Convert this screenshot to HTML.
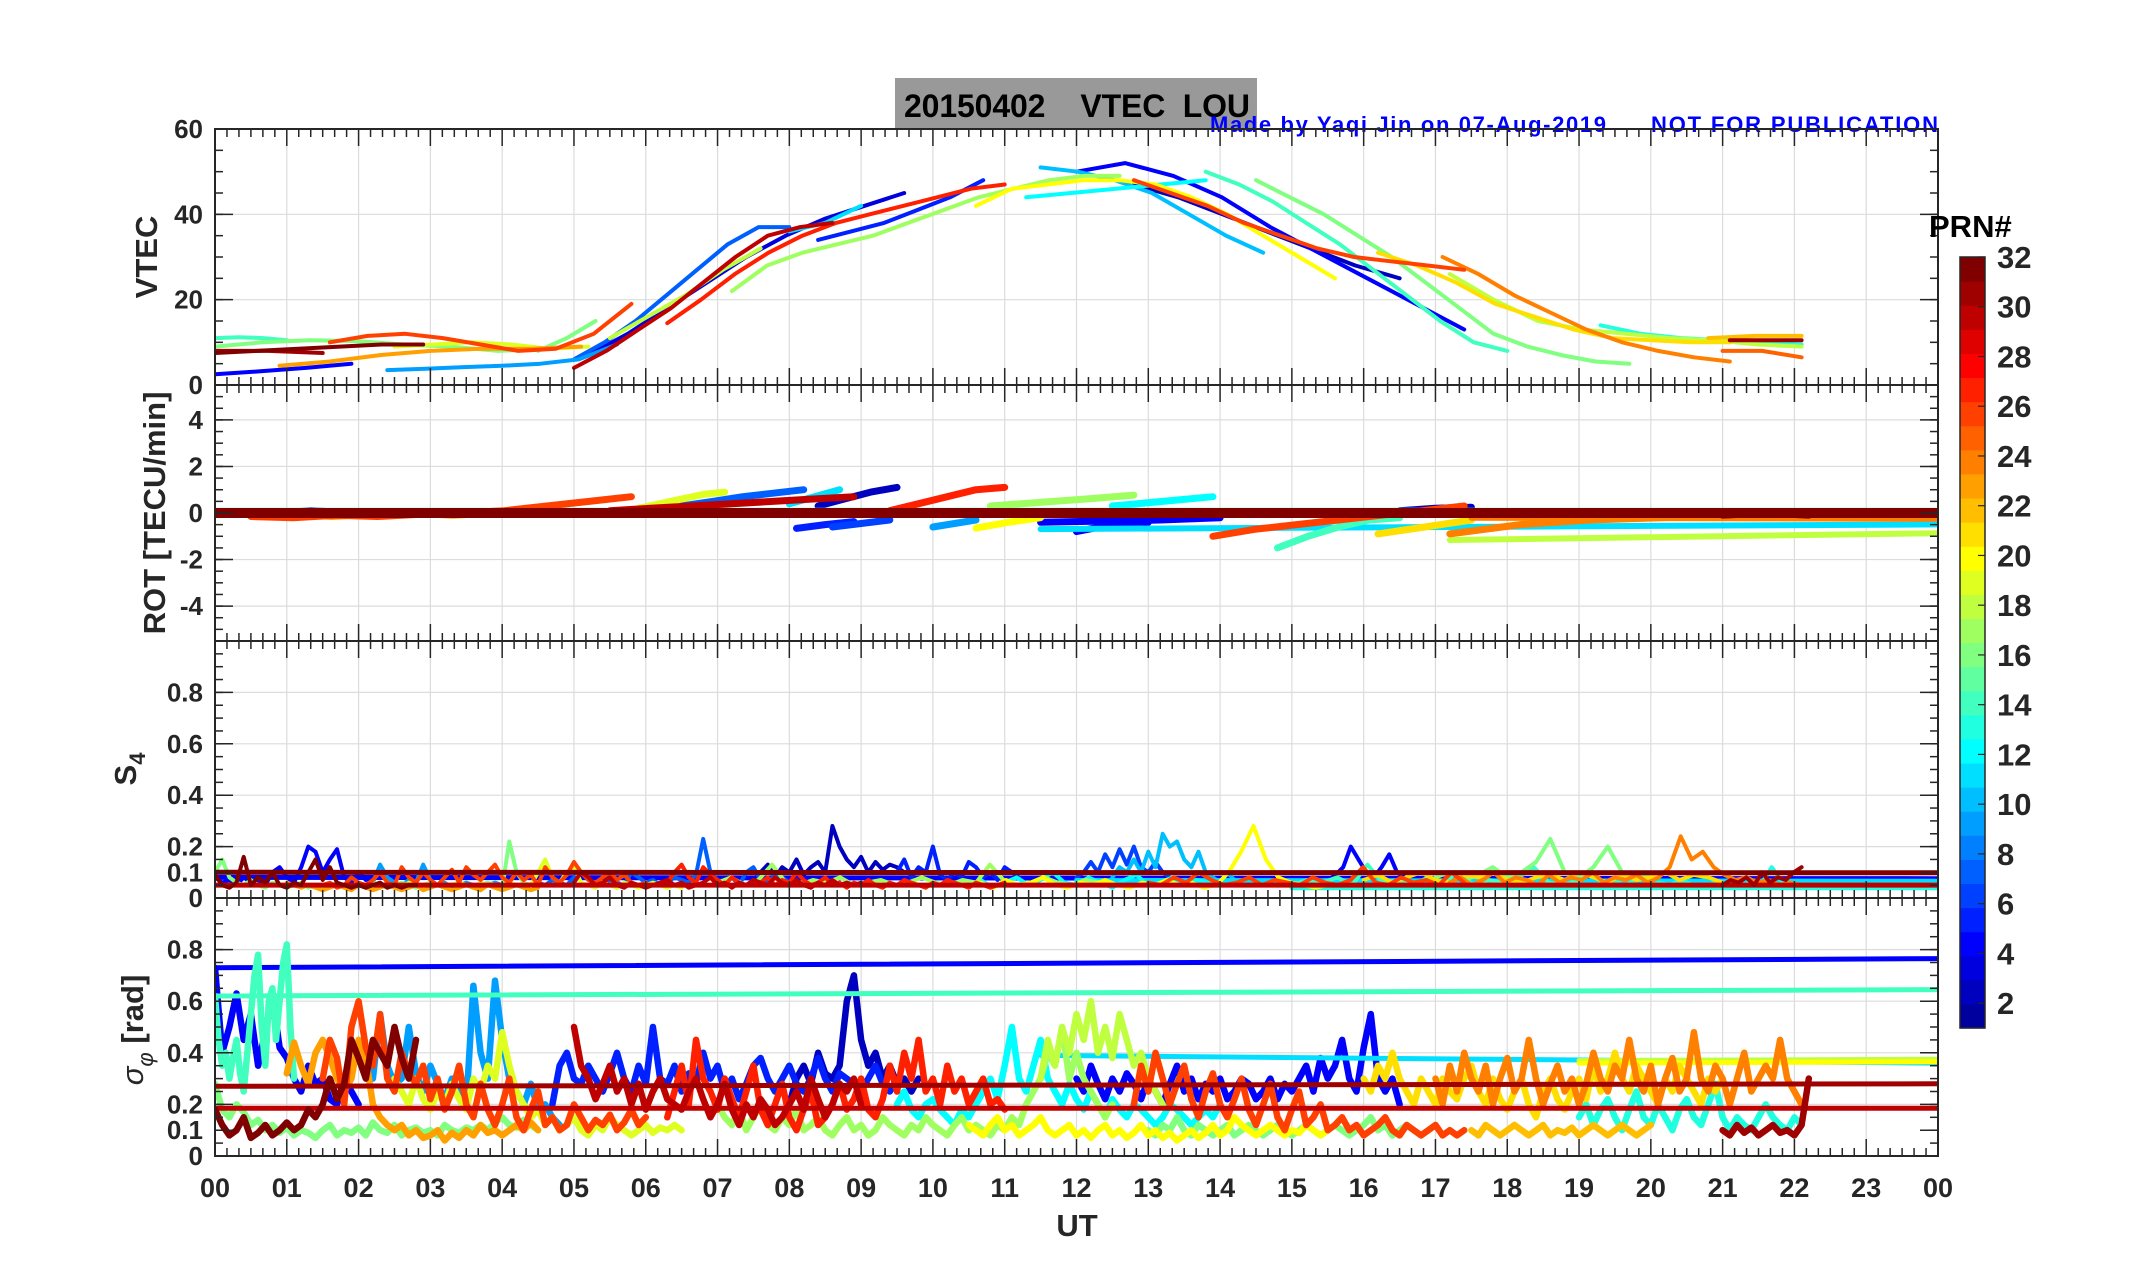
<!DOCTYPE html>
<html><head><meta charset="utf-8"><title>VTEC LOU 20150402</title>
<style>
html,body{margin:0;padding:0;background:#fff;}
svg{display:block;}
text{font-family:"Liberation Sans",Arial,sans-serif;font-weight:bold;fill:#262626;white-space:pre;}
</style></head>
<body>
<svg id="chart" width="2153" height="1286" viewBox="0 0 2153 1286" xmlns="http://www.w3.org/2000/svg">
  <rect x="0" y="0" width="2153" height="1286" fill="#fff"/>
  <rect x="895" y="78" width="362" height="51" fill="#999999"/>
  <text x="904" y="117" font-size="32" textLength="346" style="fill:#000">20150402    VTEC  LOU</text>
  <text x="1210" y="132" font-size="22" textLength="396" style="fill:#0000ff">Made by Yaqi Jin on 07-Aug-2019</text>
  <text x="1651" y="132" font-size="22" textLength="287" style="fill:#0000ff">NOT FOR PUBLICATION</text>
  <g id="panels"></g>
  <g id="cbar"></g>
</svg>
<script>
// ---------- data ----------
const hourTicks = ["00","01","02","03","04","05","06","07","08","09","10","11","12","13","14","15","16","17","18","19","20","21","22","23","00"];
const vtecTicks = [0,20,40,60];
const rotTicks = [-4,-2,0,2,4];
const s4Ticks = [0,0.1,0.2,0.4,0.6,0.8];
const sigTicks = [0,0.1,0.2,0.4,0.6,0.8];
const cbarTicks = [2,4,6,8,10,12,14,16,18,20,22,24,26,28,30,32];

// VTEC: [prn, startHour, endHour, values]
const vtecSeries = [
 [4,0,1.9,[2.5,3.2,4,5]],
 [14,0,1.0,[11,11.2,11,10.5]],
 [16,0,4.6,[9,10,10.5,10.3,9.5,9,8,8.5]],
 [32,0,2.9,[7.5,8,8.5,9,9.5,9.5]],
 [31,0,1.5,[8,8,7.5]],
 [23,0.9,5.1,[4.5,5.5,7,8,8.5,8.5,9]],
 [26,1.6,5.8,[10,11.5,12,11,9.5,8,8.5,12,19]],
 [19,2.5,5.2,[9,9.5,10,9.5,8.5,9]],
 [9,2.4,5.6,[3.5,3.8,4.2,4.5,5,6,9.5]],
 [16,4.5,5.3,[8,11,15]],
 [30,5.0,8.6,[4,8,13,18,24,30,35,37,38]],
 [7,5.0,8.0,[6,10,15,21,27,33,37,37]],
 [3,5.2,9.6,[7,12,18,24,30,35,39,42,45]],
 [27,6.3,11,[14.5,20,26,31,35,38,40,42,44,46,47]],
 [18,5.5,7.6,[11,16,21,27,32]],
 [17,7.2,12.6,[22,28,31,33,35,38,41,44,46,48,49,49]],
 [11,8.0,9.0,[36,38,42]],
 [5,8.4,10.7,[34,36,38,41,44,48]],
 [20,10.6,15.6,[42,46,47,48,48,47,44,40,35,30,25]],
 [12,11.3,13.8,[44,45,46,47,48]],
 [10,11.5,14.6,[51,50,48,45,40,35,31]],
 [26,12.8,17.4,[48,45,42,38,35,32,30,29,28,27]],
 [4,12.0,17.4,[50,52,49,44,37,31,25,19,13]],
 [2,12.8,16.5,[47,44,40,36,32,28,25]],
 [14,13.8,18.0,[50,47,43,38,33,27,21,15,10,8]],
 [16,14.5,19.7,[48,44,40,35,30,24,18,12,9,7,5.5,5]],
 [21,16.2,21.1,[31,28,24,19,16,13,11,10.5,10,10]],
 [24,17.1,21.1,[30,26,21,17,13,10,8,6.5,5.5]],
 [18,17.2,22.1,[26,20,15,13,12,11,10.5,9.5,9]],
 [13,19.3,22.1,[14,12,11,10.5,10,9.5]],
 [25,21.0,22.1,[8,8,6.5]],
 [22,20.8,22.1,[11,11.5,11.5]],
 [31,21.1,22.1,[10.5,10.5,10.5]]
];

// ROT: [prn, startHour, endHour, values]
const rotSeries = [
 [4,0,2,[0.05,-0.05,0.1,0]],
 [16,0,5,[0,0.05,-0.05,0,0.05,0,-0.05,0,0.05,0]],
 [23,0.5,5,[-0.1,0,-0.15,-0.05,0,-0.1,0,0.05,0]],
 [26,0.5,5.8,[-0.15,-0.2,-0.1,-0.15,-0.05,0,0.1,0.3,0.5,0.7]],
 [19,5.9,7.1,[0.2,0.4,0.6,0.8,0.9]],
 [7,6.5,8.2,[0.3,0.5,0.7,0.85,1.0]],
 [11,8.0,8.7,[0.4,0.7,1.0]],
 [30,5.5,8.9,[0.1,0.2,0.3,0.4,0.5,0.6,0.7]],
 [2,8.4,9.5,[0.3,0.6,0.9,1.1]],
 [27,9.4,11,[0.1,0.4,0.7,1.0,1.1]],
 [5,8.1,8.9,[-0.66,-0.5,-0.37]],
 [6,8.6,9.4,[-0.6,-0.45,-0.3]],
 [9,10.0,10.6,[-0.6,-0.45,-0.3]],
 [20,10.6,11.5,[-0.65,-0.4,-0.2]],
 [17,10.8,12.8,[0.3,0.45,0.6,0.77]],
 [12,12.5,13.9,[0.3,0.5,0.7]],
 [4,11.5,14,[-0.4,-0.35,-0.3,-0.2]],
 [4,12.0,13.0,[-0.8,-0.5,-0.4]],
 [26,13.9,17.4,[-1.0,-0.7,-0.5,-0.3,-0.1,0.1,0.3]],
 [14,14.8,16.5,[-1.5,-1.0,-0.6,-0.3,-0.2]],
 [21,16.2,17.5,[-0.9,-0.6,-0.3]],
 [24,17.2,22.1,[-0.9,-0.5,-0.3,-0.2,-0.1,0.0]],
 [2,16.5,17.5,[0.1,0.2,0.25]],
 [31,21,22.2,[-0.1,0,-0.1]]
];
const rotFlat = [[14,0,24,0.1,0.1],[11,11.5,24,-0.69,-0.49],[18,17.2,24,-1.16,-0.87],[24,17.5,24,-0.2,-0.25],[32,0,24,0,0]];

const s4Series = [
 [4,0,2.2,[0.08,0.06,0.07,0.05,0.08,0.06,0.07,0.05,0.1,0.12,0.08,0.06,0.12,0.2,0.18,0.1,0.15,0.19,0.08,0.06,0.1,0.07,0.08]],
 [16,0,4.5,[0.1,0.15,0.08,0.06,0.05,0.07,0.05,0.04,0.06,0.05,0.04,0.05,0.06,0.04,0.05,0.04,0.05,0.06,0.04,0.05,0.05,0.04,0.06,0.05,0.04,0.05,0.06,0.05,0.04,0.05,0.06,0.05,0.04,0.05,0.06,0.05,0.04,0.05,0.06,0.05,0.04,0.22,0.1,0.06,0.05,0.04]],
 [23,1.0,4.5,[0.06,0.05,0.04,0.05,0.04,0.03,0.04,0.05,0.04,0.03,0.05,0.04,0.03,0.04,0.05,0.04,0.03,0.04,0.05,0.03,0.04,0.05,0.04,0.03,0.04,0.05,0.04,0.03,0.05,0.04,0.03,0.04,0.05,0.04,0.03,0.04]],
 [9,2.2,4.0,[0.06,0.13,0.08,0.06,0.05,0.07,0.06,0.13,0.07,0.05,0.06,0.04,0.05,0.06,0.05,0.04,0.05,0.06,0.05]],
 [26,1.5,6,[0.05,0.06,0.04,0.05,0.08,0.06,0.05,0.07,0.1,0.06,0.05,0.12,0.08,0.06,0.1,0.07,0.05,0.08,0.11,0.06,0.12,0.09,0.07,0.1,0.13,0.08,0.06,0.1,0.07,0.09,0.05,0.12,0.08,0.06,0.09,0.14,0.1,0.07,0.06,0.08,0.1,0.07,0.09,0.06,0.05,0.06]],
 [19,2.5,6.5,[0.05,0.04,0.06,0.05,0.04,0.06,0.05,0.04,0.05,0.06,0.05,0.04,0.06,0.05,0.04,0.05,0.06,0.05,0.04,0.05,0.1,0.15,0.08,0.06,0.1,0.12,0.06,0.05,0.04,0.06,0.05,0.04,0.06,0.05,0.04,0.05,0.06,0.05,0.04,0.05,0.04]],
 [7,4.5,8,[0.06,0.05,0.07,0.06,0.05,0.08,0.1,0.07,0.06,0.05,0.07,0.06,0.05,0.1,0.08,0.06,0.07,0.05,0.06,0.08,0.07,0.06,0.09,0.23,0.1,0.07,0.06,0.08,0.05,0.1,0.12,0.07,0.06,0.09,0.08,0.06]],
 [2,7.5,9.6,[0.07,0.1,0.13,0.08,0.12,0.1,0.15,0.09,0.12,0.14,0.1,0.28,0.2,0.15,0.12,0.16,0.1,0.14,0.11,0.13,0.12,0.1]],
 [17,7,12.5,[0.06,0.08,0.05,0.07,0.13,0.06,0.05,0.07,0.06,0.08,0.05,0.06,0.07,0.05,0.06,0.08,0.06,0.05,0.07,0.06,0.13,0.07,0.05,0.06,0.08,0.06,0.05,0.07,0.06,0.05]],
 [5,9.5,11.2,[0.1,0.15,0.08,0.12,0.1,0.2,0.09,0.07,0.1,0.08,0.14,0.12,0.08,0.1,0.07,0.12,0.1,0.08]],
 [12,10.5,14,[0.05,0.07,0.04,0.06,0.08,0.05,0.07,0.1,0.06,0.05,0.08,0.06,0.04,0.07,0.09,0.05,0.06,0.08,0.05,0.07,0.06,0.05]],
 [20,10.5,15.5,[0.05,0.06,0.04,0.07,0.05,0.06,0.08,0.05,0.04,0.06,0.05,0.07,0.05,0.04,0.06,0.05,0.07,0.05,0.06,0.04,0.05,0.1,0.18,0.28,0.15,0.08,0.06,0.05,0.04,0.05]],
 [10,12.5,14.2,[0.08,0.12,0.1,0.15,0.1,0.18,0.12,0.25,0.2,0.22,0.15,0.12,0.18,0.1,0.08,0.06,0.1,0.07]],
 [6,12,13.5,[0.08,0.1,0.14,0.1,0.17,0.12,0.19,0.13,0.2,0.12,0.1,0.14,0.1,0.08,0.07,0.06]],
 [4,15.5,17,[0.07,0.09,0.12,0.2,0.15,0.1,0.08,0.12,0.17,0.1,0.08,0.07,0.06,0.08,0.06]],
 [21,16,21,[0.07,0.09,0.06,0.08,0.1,0.07,0.06,0.09,0.08,0.1,0.07,0.06,0.08,0.09,0.07,0.1,0.08,0.06,0.09,0.07,0.08,0.1,0.07,0.09,0.08,0.06]],
 [14,15,19,[0.05,0.07,0.06,0.08,0.05,0.13,0.06,0.07,0.05,0.08,0.06,0.1,0.05,0.07,0.06,0.08,0.12,0.06,0.05,0.07]],
 [16,17,20,[0.08,0.1,0.07,0.09,0.12,0.08,0.1,0.14,0.23,0.1,0.08,0.12,0.2,0.1,0.08,0.09]],
 [24,17.2,22.1,[0.06,0.08,0.05,0.07,0.1,0.06,0.08,0.07,0.05,0.09,0.06,0.08,0.07,0.1,0.06,0.08,0.07,0.09,0.06,0.08,0.12,0.24,0.15,0.18,0.12,0.09,0.07,0.08,0.06,0.07,0.05,0.06,0.05]],
 [13,19,22,[0.05,0.04,0.06,0.05,0.08,0.05,0.04,0.06,0.05,0.07,0.05,0.04,0.06,0.05,0.04,0.06,0.05,0.12,0.06,0.05]],
 [30,5,9,[0.06,0.1,0.08,0.05,0.06,0.08,0.05,0.04,0.06,0.05,0.04,0.05,0.06,0.07,0.05,0.06,0.04,0.05,0.06,0.08,0.05,0.06,0.04,0.06,0.05,0.07,0.06,0.05,0.08,0.06,0.05,0.07,0.05,0.04,0.06,0.05,0.07,0.05,0.06,0.05,0.06]],
 [27,6.3,11,[0.06,0.1,0.13,0.08,0.06,0.12,0.09,0.07,0.05,0.08,0.06,0.05,0.07,0.06,0.08,0.05,0.07,0.06,0.1,0.07,0.05,0.06,0.08,0.05,0.06,0.04,0.06,0.05,0.07,0.05,0.04,0.06,0.05,0.07,0.06,0.05,0.04,0.06,0.05,0.07,0.06,0.05,0.04,0.06,0.05,0.04,0.05,0.06]],
 [26,13,17.4,[0.06,0.05,0.08,0.06,0.1,0.07,0.05,0.06,0.08,0.05,0.07,0.06,0.05,0.08,0.06,0.05,0.07,0.12,0.06,0.05,0.08,0.06,0.07,0.05,0.1,0.06]],
 [32,0,2.8,[0.09,0.05,0.04,0.06,0.16,0.05,0.08,0.06,0.1,0.05,0.04,0.06,0.05,0.1,0.15,0.07,0.12,0.06,0.05,0.04,0.05,0.04,0.05,0.06,0.04,0.05,0.04,0.05,0.05]],
 [31,21,22.1,[0.05,0.07,0.06,0.08,0.05,0.1,0.06,0.08,0.07,0.1,0.12]]
];
const s4Flat = [[13,15,24,0.04,0.04],[4,0,24,0.08,0.075],[11,12,24,0.068,0.065],[30,0,24,0.05,0.05],[32,0,24,0.1,0.098]];

const sigSeries = [
 [16,0,4.5,[0.28,0.18,0.15,0.2,0.17,0.12,0.14,0.1,0.12,0.09,0.11,0.08,0.1,0.09,0.07,0.1,0.12,0.08,0.1,0.09,0.11,0.08,0.13,0.1,0.09,0.12,0.08,0.1,0.11,0.09,0.1,0.08,0.12,0.1,0.09,0.11,0.1,0.12,0.1,0.13,0.15,0.12,0.11,0.14,0.12,0.1]],
 [4,0,2.0,[0.73,0.4,0.5,0.63,0.45,0.55,0.35,0.48,0.62,0.42,0.38,0.3,0.25,0.35,0.28,0.3,0.22,0.2,0.3,0.25,0.2]],
 [14,0,1.1,[0.62,0.45,0.35,0.4,0.3,0.38,0.45,0.32,0.25,0.4,0.55,0.7,0.78,0.5,0.35,0.6,0.65,0.45,0.6,0.75,0.82,0.5,0.3]],
 [23,1,4.5,[0.32,0.44,0.35,0.28,0.4,0.45,0.38,0.3,0.25,0.3,0.45,0.38,0.2,0.15,0.12,0.1,0.12,0.08,0.1,0.07,0.08,0.1,0.06,0.09,0.07,0.1,0.08,0.12,0.09,0.1,0.08,0.1,0.12,0.1,0.13,0.1]],
 [9,2.2,4.8,[0.3,0.55,0.35,0.28,0.3,0.5,0.32,0.25,0.35,0.28,0.22,0.3,0.25,0.2,0.66,0.4,0.3,0.68,0.45,0.3,0.25,0.2,0.28,0.18,0.2,0.15,0.12]],
 [19,2.5,6.5,[0.3,0.25,0.2,0.3,0.22,0.18,0.25,0.2,0.28,0.22,0.18,0.3,0.25,0.35,0.3,0.48,0.35,0.25,0.2,0.15,0.18,0.12,0.15,0.1,0.12,0.15,0.1,0.08,0.12,0.1,0.15,0.12,0.1,0.08,0.1,0.12,0.09,0.11,0.1,0.12,0.1]],
 [26,1.5,6,[0.3,0.45,0.38,0.2,0.5,0.6,0.42,0.35,0.55,0.3,0.25,0.4,0.32,0.28,0.35,0.22,0.3,0.18,0.25,0.35,0.2,0.15,0.28,0.18,0.12,0.2,0.3,0.15,0.1,0.18,0.25,0.12,0.15,0.1,0.12,0.2,0.15,0.1,0.14,0.12,0.16,0.1,0.13,0.18,0.12,0.15]],
 [5,4.7,9.5,[0.2,0.35,0.4,0.3,0.28,0.35,0.3,0.25,0.32,0.4,0.3,0.25,0.35,0.28,0.5,0.3,0.28,0.35,0.25,0.32,0.28,0.4,0.3,0.35,0.25,0.3,0.22,0.28,0.35,0.38,0.3,0.25,0.3,0.35,0.28,0.25,0.3,0.38,0.3,0.25,0.32,0.3,0.28,0.25,0.3,0.35,0.28,0.25,0.3]],
 [2,8,9.8,[0.2,0.3,0.35,0.28,0.4,0.32,0.3,0.35,0.6,0.7,0.45,0.35,0.4,0.3,0.35,0.28,0.3,0.25,0.3]],
 [17,7,12.5,[0.2,0.15,0.12,0.18,0.1,0.15,0.2,0.12,0.1,0.15,0.12,0.18,0.1,0.12,0.15,0.1,0.08,0.12,0.15,0.1,0.12,0.08,0.1,0.15,0.12,0.1,0.08,0.12,0.1,0.15,0.12,0.1,0.08,0.12,0.15,0.1,0.12,0.1,0.08,0.12,0.1,0.15,0.12,0.2,0.25,0.3,0.4,0.35,0.5,0.3,0.4,0.3,0.25,0.2,0.15,0.2]],
 [12,9.5,14,[0.2,0.25,0.18,0.15,0.2,0.22,0.18,0.15,0.12,0.18,0.15,0.2,0.25,0.3,0.22,0.35,0.5,0.3,0.25,0.35,0.45,0.3,0.25,0.2,0.28,0.22,0.18,0.25,0.2,0.15,0.22,0.18,0.15,0.2,0.18,0.15,0.12,0.15,0.2,0.18,0.15,0.12,0.15,0.18,0.15,0.2]],
 [18,11.5,13.2,[0.3,0.45,0.35,0.5,0.4,0.55,0.45,0.6,0.4,0.5,0.38,0.55,0.45,0.35,0.4,0.3,0.25,0.2]],
 [20,10.5,15.5,[0.12,0.1,0.08,0.12,0.15,0.1,0.12,0.08,0.1,0.12,0.15,0.1,0.08,0.1,0.12,0.08,0.1,0.07,0.1,0.12,0.08,0.1,0.07,0.09,0.12,0.08,0.1,0.07,0.09,0.06,0.08,0.1,0.07,0.09,0.12,0.08,0.1,0.15,0.12,0.1,0.08,0.1,0.12,0.1,0.08,0.1,0.09,0.12,0.1,0.08,0.1]],
 [4,12,16.5,[0.3,0.25,0.35,0.28,0.22,0.3,0.25,0.32,0.28,0.22,0.3,0.25,0.2,0.28,0.35,0.25,0.3,0.22,0.28,0.25,0.3,0.22,0.25,0.3,0.28,0.22,0.25,0.3,0.22,0.28,0.25,0.3,0.35,0.25,0.38,0.3,0.35,0.45,0.3,0.25,0.42,0.55,0.3,0.25,0.3,0.2]],
 [16,13,17,[0.1,0.08,0.12,0.1,0.15,0.1,0.08,0.12,0.1,0.08,0.1,0.12,0.08,0.1,0.12,0.1,0.08,0.1,0.12,0.1,0.08,0.1,0.12,0.1,0.08,0.1,0.12,0.1,0.08,0.1,0.12,0.15,0.1,0.12,0.08,0.1,0.12,0.1,0.08,0.1,0.12]],
 [21,16,21,[0.3,0.25,0.35,0.3,0.4,0.3,0.25,0.2,0.3,0.25,0.2,0.3,0.25,0.22,0.3,0.35,0.25,0.2,0.3,0.22,0.18,0.25,0.3,0.2,0.15,0.25,0.3,0.22,0.18,0.25,0.3,0.22,0.35,0.25,0.3,0.4,0.3,0.25,0.35,0.3,0.25,0.2,0.3,0.25,0.35,0.3,0.25,0.2,0.3,0.25,0.3]],
 [22,17.5,20,[0.1,0.08,0.12,0.1,0.08,0.1,0.12,0.1,0.08,0.1,0.12,0.08,0.1,0.09,0.11,0.08,0.1,0.12,0.1,0.08,0.1,0.12,0.1,0.08,0.1,0.12]],
 [13,19,22.1,[0.15,0.2,0.12,0.18,0.22,0.15,0.1,0.18,0.25,0.15,0.12,0.2,0.15,0.1,0.18,0.22,0.15,0.12,0.2,0.28,0.15,0.1,0.15,0.12,0.1,0.15,0.2,0.15,0.12,0.1,0.15,0.12]],
 [24,17,22.1,[0.3,0.2,0.35,0.25,0.4,0.3,0.25,0.35,0.2,0.3,0.38,0.25,0.3,0.45,0.3,0.2,0.28,0.35,0.25,0.3,0.2,0.28,0.4,0.3,0.25,0.35,0.3,0.45,0.3,0.25,0.35,0.2,0.3,0.38,0.25,0.3,0.48,0.3,0.25,0.35,0.3,0.2,0.3,0.4,0.25,0.3,0.35,0.3,0.45,0.3,0.25,0.2]],
 [27,6.3,11,[0.15,0.25,0.35,0.2,0.45,0.3,0.25,0.18,0.3,0.22,0.15,0.25,0.35,0.18,0.12,0.2,0.28,0.15,0.1,0.18,0.25,0.12,0.15,0.2,0.28,0.18,0.22,0.3,0.18,0.15,0.22,0.35,0.25,0.4,0.3,0.45,0.25,0.3,0.2,0.35,0.25,0.3,0.2,0.25,0.3,0.2,0.22,0.18]],
 [26,12.8,17.4,[0.2,0.35,0.25,0.4,0.3,0.2,0.28,0.35,0.22,0.15,0.25,0.32,0.2,0.15,0.22,0.3,0.18,0.12,0.2,0.28,0.15,0.1,0.18,0.25,0.12,0.15,0.2,0.1,0.12,0.15,0.1,0.12,0.08,0.1,0.12,0.15,0.1,0.08,0.12,0.1,0.08,0.1,0.12,0.08,0.1,0.08,0.1]],
 [30,5,9,[0.5,0.35,0.3,0.22,0.28,0.35,0.25,0.3,0.2,0.28,0.18,0.25,0.3,0.22,0.2,0.18,0.25,0.3,0.22,0.15,0.2,0.28,0.18,0.12,0.2,0.15,0.22,0.18,0.12,0.15,0.2,0.25,0.18,0.3,0.22,0.15,0.2,0.28,0.25,0.3,0.2]],
 [32,0,2.8,[0.18,0.12,0.08,0.1,0.15,0.07,0.09,0.12,0.08,0.1,0.13,0.1,0.12,0.18,0.15,0.2,0.3,0.22,0.28,0.45,0.38,0.3,0.45,0.4,0.35,0.5,0.38,0.3,0.45]],
 [31,21,22.2,[0.1,0.08,0.12,0.09,0.11,0.08,0.1,0.12,0.09,0.1,0.08,0.12,0.3]]
];
const sigFlat = [[4,0,24,0.73,0.765],[14,0,24,0.62,0.645],[11,11.5,24,0.39,0.36],[18,19,24,0.37,0.375],[20,19,24,0.36,0.365],[31,0,24,0.27,0.28],[30,0,24,0.185,0.185]];

// ---------- helpers ----------
const NS = "http://www.w3.org/2000/svg";
const X0 = 215, X1 = 1938;
const xS = h => X0 + h * (X1 - X0) / 24;
function jet(i){
  const u = [];
  for (let k=1;k<=8;k++) u.push(k/8);
  for (let k=0;k<7;k++) u.push(1);
  for (let k=8;k>=1;k--) u.push(k/8);
  const U = k => (k>=1 && k<=23) ? u[k-1] : 0;
  const r = U(i-12), g = U(i-4), b = U(i+4);
  return `rgb(${Math.round(r*255)},${Math.round(g*255)},${Math.round(b*255)})`;
}
function el(tag, attrs, parent){
  const e = document.createElementNS(NS, tag);
  for (const k in attrs) e.setAttribute(k, attrs[k]);
  parent.appendChild(e);
  return e;
}
const panelsG = document.getElementById('panels');

const panels = [
 {name:'vtec', top:129, bot:385, min:0, max:60, major:vtecTicks, minorStep:5, grid:vtecTicks, labels:vtecTicks.map(String)},
 {name:'rot', top:385, bot:641, min:-5.5, max:5.5, major:rotTicks, minorStep:0.5, grid:rotTicks, labels:rotTicks.map(String)},
 {name:'s4', top:641, bot:898, min:0, max:1.0, major:s4Ticks, minorStep:0.05, grid:[0.2,0.4,0.6,0.8], labels:s4Ticks.map(String)},
 {name:'sigma', top:898, bot:1156, min:0, max:1.0, major:sigTicks, minorStep:0.05, grid:[0.2,0.4,0.6,0.8], labels:sigTicks.map(String)}
];
panels.forEach(p => { p.y = v => p.bot - (v - p.min) / (p.max - p.min) * (p.bot - p.top); });

function drawPanelFrame(p){
  const g = el('g', {}, panelsG);
  
  
  for (let h=1; h<24; h++){
    const l = el('line',{x1:xS(h),x2:xS(h),y1:p.top,y2:p.bot,stroke:'#dcdcdc','stroke-width':1.2},g);
    
    
  }
  p.grid.forEach(v => {
    if (v<=p.min || v>=p.max) return;
    const l = el('line',{x1:X0,x2:X1,y1:p.y(v),y2:p.y(v),stroke:'#dcdcdc','stroke-width':1.2},g);
    
    
  });
  const clipId = 'clip-' + p.name;
  const cp = el('clipPath',{id:clipId},g);
  el('rect',{x:X0,y:p.top,width:X1-X0,height:p.bot-p.top},cp);
  const data = el('g',{'clip-path':`url(#${clipId})`,'stroke-linejoin':'round','stroke-linecap':'round',fill:'none'},g);
  
  
  p.dataG = data;
}
function drawPanelTicks(p){
  const g = el('g',{stroke:'#262626','stroke-width':1.5},panelsG);
  
  
  for (let k=0; k<=144; k++){
    const h = k/6, major = (k%6===0), len = major ? 17 : 8;
    el('line',{x1:xS(h),x2:xS(h),y1:p.top,y2:p.top+len},g);
    el('line',{x1:xS(h),x2:xS(h),y1:p.bot,y2:p.bot-len},g);
  }
  const nMin = Math.round((p.max-p.min)/p.minorStep);
  for (let k=0;k<=nMin;k++){
    const v = p.min + k*p.minorStep;
    el('line',{x1:X0,x2:X0+8,y1:p.y(v),y2:p.y(v)},g);
    el('line',{x1:X1,x2:X1-8,y1:p.y(v),y2:p.y(v)},g);
  }
  p.major.forEach(v => {
    el('line',{x1:X0,x2:X0+18,y1:p.y(v),y2:p.y(v)},g);
    el('line',{x1:X1,x2:X1-18,y1:p.y(v),y2:p.y(v)},g);
  });
  const fr = el('rect',{x:X0,y:p.top,width:X1-X0,height:p.bot-p.top,fill:'none',stroke:'#262626','stroke-width':2},g);
  
  
  p.major.forEach((v,i) => {
    const t = el('text',{x:203,y:p.y(v)+9,'text-anchor':'end','font-size':26},panelsG);
    t.textContent = p.labels[i];
    
    
  });
}
function poly(p, prn, t0, t1, vals, w){
  const n = vals.length;
  const pts = vals.map((v,i) => {
    const h = n>1 ? t0 + i*(t1-t0)/(n-1) : t0;
    return xS(h).toFixed(1) + ',' + p.y(v).toFixed(1);
  }).join(' ');
  const pl = el('polyline',{points:pts,stroke:jet(prn),'stroke-width':w},p.dataG);
  
  
}
function drawAll(p, series, flat, w, wf){
  const items = [];
  series.forEach(s => items.push({prn:s[0], t0:s[1], t1:s[2], vals:s[3], w:w}));
  (flat||[]).forEach(f => items.push({prn:f[0], t0:f[1], t1:f[2], vals:[f[3],f[4]], w:(f[0]===32 && p.name==='rot') ? 10 : wf}));
  items.sort((a,b)=>a.prn-b.prn);
  items.forEach(it => poly(p, it.prn, it.t0, it.t1, it.vals, it.w));
}

panels.forEach(drawPanelFrame);
drawAll(panels[0], vtecSeries, [], 4);
drawAll(panels[1], rotSeries, rotFlat, 7, 6);
drawAll(panels[2], s4Series, s4Flat, 4, 5);
drawAll(panels[3], sigSeries, sigFlat, 6.5, 5);
panels.forEach(drawPanelTicks);

hourTicks.forEach((lab,i) => {
  const t = el('text',{x:xS(i),y:1197,'text-anchor':'middle','font-size':27},panelsG);
  t.textContent = lab;
  
  
});
function rotLabel(txt, x, y, name){
  const t = el('text',{x:0,y:0,'text-anchor':'middle','font-size':31,transform:`translate(${x},${y}) rotate(-90)`},panelsG);
  t.textContent = txt;
  
  
  return t;
}
rotLabel('VTEC', 157, 257, 'vtec-axis-title');
rotLabel('ROT [TECU/min]', 165, 513, 'rot-axis-title');
{
  const t = el('text',{x:0,y:0,'text-anchor':'middle','font-size':31,transform:'translate(136,769) rotate(-90)'},panelsG);
  
  
  const a = el('tspan',{},t); a.textContent = 'S';
  const b = el('tspan',{'font-size':22,dy:9},t); b.textContent = '4';
}
{
  const t = el('text',{x:0,y:0,'text-anchor':'middle','font-size':31,transform:'translate(143,1030) rotate(-90)'},panelsG);
  
  
  const a = el('tspan',{'font-style':'italic','font-weight':'normal'},t); a.textContent = 'σ';
  const b = el('tspan',{'font-size':22,dy:10,'font-style':'italic','font-weight':'normal'},t); b.textContent = 'φ';
  const c = el('tspan',{dy:-10},t); c.textContent = ' [rad]';
}
{
  const t = el('text',{x:1077,y:1236,'text-anchor':'middle','font-size':31},panelsG);
  t.textContent = 'UT';
  
  
}

const cb = document.getElementById('cbar');


const CBX = 1960, CBW = 25, CBT = 257, CBB = 1028;
const cellH = (CBB-CBT)/32;
for (let i=1;i<=32;i++){
  const r = el('rect',{x:CBX,y:CBB - i*cellH,width:CBW,height:cellH+0.6,fill:jet(i)},cb);
  
  
}
el('rect',{x:CBX,y:CBT,width:CBW,height:CBB-CBT,fill:'none',stroke:'#262626','stroke-width':1.5},cb);
const cbY = v => CBB - (v-1)/31*(CBB-CBT);
cbarTicks.forEach(v => {
  el('line',{x1:CBX+CBW-7,x2:CBX+CBW,y1:cbY(v),y2:cbY(v),stroke:'#262626','stroke-width':1.2},cb);
  const t = el('text',{x:1997,y:cbY(v)+11,'font-size':31},cb);
  t.textContent = String(v);
  
  
});
{
  const t = el('text',{x:1929,y:237,'font-size':31,style:'fill:#000'},cb);
  t.textContent = 'PRN#';
  
  
}
</script>
</body></html>
